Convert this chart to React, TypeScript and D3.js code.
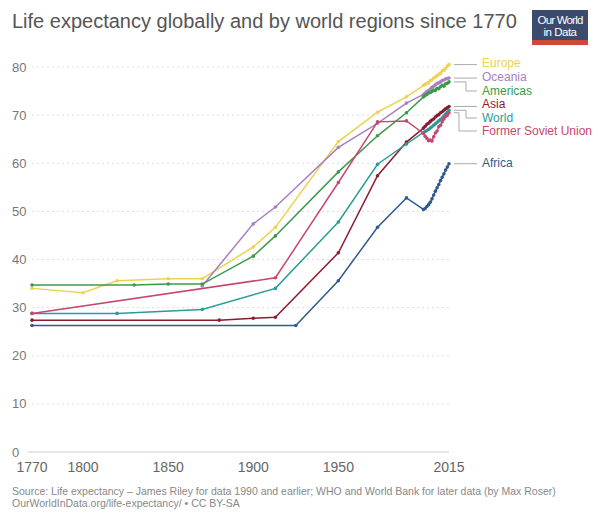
import * as d3 from "d3";

// Years of the annual WHO / World Bank estimates
const annualYears = [
  2000, 2001, 2002, 2003, 2004, 2005, 2006, 2007, 2008, 2009, 2010, 2011,
  2012, 2013, 2014, 2015,
];

const europeYears = [1770, 1800, 1820, 1850, 1870, 1900, 1913, 1950, 1973, 1990, ...annualYears];
const europeValues = [
  34.0, 33.1, 35.6, 36.0, 36.0, 42.6, 46.7, 64.5, 70.6, 73.8,
  76.2, 76.4, 76.6, 76.7, 77.2, 77.3, 77.7, 77.9, 78.2, 78.5, 78.7, 79.2,
  79.3, 79.7, 80.2, 80.5,
];

const oceaniaYears = [1870, 1900, 1913, 1950, 1973, 1990, ...annualYears];
const oceaniaValues = [
  34.5, 47.4, 50.9, 63.3, 68.3, 72.5,
  74.3, 74.6, 74.9, 75.1, 75.4, 75.8, 76.0, 76.3, 76.6, 76.7, 76.9, 77.2,
  77.3, 77.5, 77.6, 77.7,
];

const americasYears = [1770, 1830, 1850, 1870, 1900, 1913, 1950, 1973, 1990, ...annualYears];
const americasValues = [
  34.7, 34.7, 34.9, 34.9, 40.7, 44.9, 58.2, 65.7, 70.5,
  73.8, 74.1, 74.3, 74.6, 74.7, 74.9, 75.2, 75.1, 75.6, 75.5, 75.9, 76.2,
  76.0, 76.5, 76.6, 76.9,
];

const asiaYears = [1770, 1880, 1900, 1913, 1950, 1973, 1990, ...annualYears];
const asiaValues = [
  27.4, 27.4, 27.8, 28.0, 41.4, 57.4, 64.4,
  67.3, 67.7, 68.1, 68.3, 68.7, 69.0, 69.2, 69.6, 69.9, 70.1, 70.5, 70.7,
  71.0, 71.3, 71.5, 71.8,
];

const worldYears = [1770, 1820, 1870, 1913, 1950, 1973, 1990, ...annualYears];
const worldValues = [
  28.8, 28.8, 29.6, 34.0, 47.8, 59.8, 64.0,
  66.4, 66.6, 66.8, 67.0, 67.3, 67.6, 67.9, 68.2, 68.5, 68.8, 69.1, 69.4,
  69.8, 70.2, 70.6, 71.0,
];

const fsuYears = [1770, 1913, 1950, 1973, 1990, ...annualYears];
const fsuValues = [
  28.8, 36.2, 56.0, 68.6, 68.8,
  66.2, 65.6, 65.2, 64.7, 64.8, 64.6, 65.5, 66.3, 66.7, 67.6, 67.9, 68.6,
  69.2, 69.7, 70.0, 70.5,
];

const africaYears = [1770, 1925, 1950, 1973, 1990, ...annualYears];
const africaValues = [
  26.3, 26.3, 35.6, 46.7, 52.8,
  50.4, 50.6, 51.0, 51.4, 51.9, 52.6, 53.4, 54.2, 54.9, 55.6, 56.4, 57.1,
  57.8, 58.6, 59.2, 59.9,
];

const regionNames = ["Europe", "Oceania", "Americas", "Asia", "World", "Former Soviet Union", "Africa"];
const regionColors = ["#ecd352", "#a97fc2", "#3b9a4a", "#8a1c30", "#2b9b97", "#c8466e", "#2f5a8e"];

const yTicks = [0, 10, 20, 30, 40, 50, 60, 70, 80];
const xTicks = [1770, 1800, 1850, 1900, 1950, 2015];

const width = 600;
const height = 516;
const margin = { top: 67, right: 151, bottom: 64, left: 32 };

type Point = { year: number; value: number };

const zip = (years: number[], values: number[]): Point[] =>
  years.map((year, i) => ({ year, value: values[i] }));

const series = [
  zip(europeYears, europeValues),
  zip(oceaniaYears, oceaniaValues),
  zip(americasYears, americasValues),
  zip(asiaYears, asiaValues),
  zip(worldYears, worldValues),
  zip(fsuYears, fsuValues),
  zip(africaYears, africaValues),
];

// where each legend label sits and how its connector bends
const labelY = [63, 77, 91, 104, 118, 131, 163];
const bendX = [null, null, 466, null, 466, 459, null];

export default function App() {
  const x = d3
    .scaleLinear()
    .domain([1770, 2015])
    .range([margin.left, width - margin.right]);
  const y = d3
    .scaleLinear()
    .domain([0, 80])
    .range([height - margin.bottom, margin.top]);

  const line = d3
    .line<Point>()
    .x((d) => x(d.year))
    .y((d) => y(d.value));

  const font = "'Liberation Sans', Arial, sans-serif";
  const x0 = x(2015) + 5;

  return (
    <svg
      width={width}
      height={height}
      style={{ position: "absolute", left: 0, top: 0, background: "#fff" }}
      fontFamily={font}
    >
      <text x={12} y={28} fontSize={20} fill="#555">
        Life expectancy globally and by world regions since 1770
      </text>

      {/* logo */}
      <g>
        <rect x={532} y={10} width={56} height={30} fill="#3b4a6d" />
        <rect x={532} y={40} width={56} height={5} fill="#d0473a" />
        <text x={560} y={24} fontSize={11.5} fill="#fff" textAnchor="middle" letterSpacing={-0.8}>
          Our World
        </text>
        <text x={560} y={36} fontSize={11.5} fill="#fff" textAnchor="middle" letterSpacing={-0.5}>
          in Data
        </text>
      </g>

      {/* grid and y labels */}
      {yTicks.map((t) => (
        <g key={t}>
          {t > 0 && (
            <line
              x1={margin.left}
              x2={x(2015)}
              y1={y(t)}
              y2={y(t)}
              stroke="#ddd"
              strokeDasharray="2,3"
            />
          )}
          <text x={12} y={y(t) + 4.5} fontSize={13} fill="#777">
            {t}
          </text>
        </g>
      ))}
      <line x1={margin.left - 4} x2={x(2015)} y1={y(0)} y2={y(0)} stroke="#ccc" />

      {xTicks.map((t) => (
        <text key={t} x={x(t)} y={472} fontSize={14} fill="#666" textAnchor="middle">
          {t}
        </text>
      ))}

      {/* series */}
      {series.map((s, i) => (
        <g key={regionNames[i]}>
          <path d={line(s) ?? ""} fill="none" stroke={regionColors[i]} strokeWidth={1.5} />
          {s.map((d) => (
            <circle key={d.year} cx={x(d.year)} cy={y(d.value)} r={1.8} fill={regionColors[i]} />
          ))}
        </g>
      ))}

      {/* legend labels with connectors */}
      {series.map((s, i) => {
        const last = s[s.length - 1];
        const ly = y(last.value);
        const bx = bendX[i];
        const pts =
          bx == null
            ? [
                [x0, ly],
                [x0 + 23, ly],
              ]
            : [
                [x0, ly],
                [bx, ly],
                [bx, labelY[i]],
                [x0 + 23, labelY[i]],
              ];
        return (
          <g key={regionNames[i]}>
            <path
              d={d3.line()(pts as [number, number][]) ?? ""}
              fill="none"
              stroke="#aaa"
              strokeWidth={1}
            />
            <text x={482} y={labelY[i] + 4} fontSize={12} fill={regionColors[i]}>
              {regionNames[i]}
            </text>
          </g>
        );
      })}

      <text x={12} y={495} fontSize={10.5} fill="#888">
        Source: Life expectancy – James Riley for data 1990 and earlier; WHO and World Bank for later data (by Max Roser)
      </text>
      <text x={12} y={507} fontSize={10.5} fill="#888">
        OurWorldInData.org/life-expectancy/ • CC BY-SA
      </text>
    </svg>
  );
}
